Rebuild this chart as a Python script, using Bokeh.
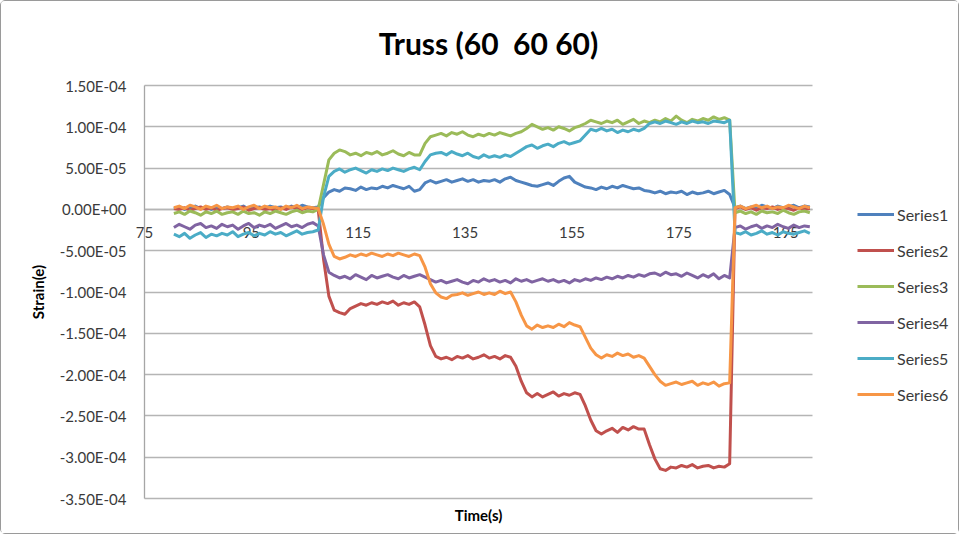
import numpy as np
from bokeh.plotting import figure
from bokeh.models import FixedTicker, Legend, LegendItem, Label
from bokeh.embed import file_html
from bokeh.resources import INLINE

# sample times (s), one reading per second
time_s = np.arange(80.5, 200.0, 1.0)

# strain readings in micro-strain (1e-6)
series1 = [1, 3, 0, 2, 4, 1, 3, 0, 2, 1,
           3, 1, 2, 4, 0, 2, 3, 1, 4, 2,
           3, 1, 4, 2, 5, 3, 2, 3, 14, 21,
           24, 22, 26, 25, 23, 27, 24, 26, 25, 28,
           26, 29, 27, 25, 28, 22, 24, 32, 35, 32,
           34, 36, 33, 35, 37, 34, 36, 33, 35, 34,
           36, 33, 37, 39, 35, 33, 31, 29, 28, 30,
           32, 29, 34, 38, 40, 33, 30, 27, 26, 24,
           27, 25, 28, 26, 29, 27, 25, 26, 23, 22,
           20, 22, 19, 21, 20, 22, 18, 21, 19, 20,
           22, 19, 21, 23, 18, 2, 4, 1, 3, 2,
           5, 3, 1, 4, 2, 3, 5, 2, 4, 3]
series2 = [1, 0, 2, -1, 1, 3, 0, 2, -1, 1,
           2, 0, 1, 3, -1, 1, 2, 0, 1, -1,
           2, 0, 3, 1, 0, 2, 1, 0, -60, -105,
           -122, -125, -127, -120, -117, -114, -116, -113, -115, -112,
           -114, -111, -116, -113, -115, -112, -118, -140, -165, -178,
           -181, -179, -182, -178, -180, -177, -181, -179, -176, -180,
           -178, -181, -177, -179, -190, -208, -222, -227, -223, -227,
           -224, -221, -226, -223, -225, -222, -224, -238, -255, -268,
           -272, -268, -265, -270, -264, -267, -263, -266, -266, -285,
           -302, -314, -316, -312, -313, -310, -312, -309, -313, -311,
           -310, -313, -311, -312, -308, 1, 3, 0, 2, -1,
           2, 1, 3, 0, 2, 1, -1, 2, 0, 1]
series3 = [-5, -3, -6, -2, -4, -7, -3, -5, -2, -6,
           -4, -3, -6, -2, -5, -4, -7, -3, -5, -2,
           -4, -6, -3, -1, -4, -2, -3, 0, 30, 60,
           68, 72, 70, 66, 68, 65, 69, 67, 70, 66,
           68, 71, 67, 65, 69, 66, 66, 80, 88, 90,
           92, 89, 93, 91, 94, 90, 88, 91, 89, 92,
           90, 93, 91, 89, 92, 94, 98, 103, 100, 97,
           99, 96, 100, 98, 95, 99, 101, 104, 108, 106,
           104, 107, 105, 108, 103, 106, 109, 104, 107, 105,
           108, 106, 110, 107, 113, 108, 105, 109, 107, 110,
           108, 112, 109, 111, 108, -4, -2, -5, -3, -6,
           -2, -4, -3, -5, -1, -4, -6, -3, -2, -4]
series4 = [-22, -18, -21, -24, -19, -17, -22, -20, -23, -18,
           -21, -19, -24, -20, -17, -22, -19, -21, -18, -23,
           -20, -17, -21, -19, -22, -18, -16, -20, -55, -76,
           -80, -83, -81, -84, -79, -82, -85, -80, -83, -81,
           -79, -82, -84, -80, -83, -81, -79, -82, -85, -88,
           -86, -89, -87, -85, -88, -90, -86, -88, -84, -87,
           -85, -88, -86, -89, -84, -87, -85, -88, -86, -84,
           -87, -85, -88, -86, -89, -85, -87, -84, -86, -83,
           -85, -82, -84, -81, -83, -80, -82, -79, -81, -78,
           -77, -80, -76, -79, -78, -81, -77, -80, -83, -79,
           -82, -78, -84, -80, -83, -22, -20, -24, -21, -19,
           -23, -20, -22, -18, -21, -23, -19, -22, -20, -21]
series5 = [-30, -33, -29, -35, -31, -28, -34, -30, -32, -29,
           -31, -27, -33, -30, -28, -32, -29, -31, -27, -30,
           -28, -32, -29, -26, -30, -28, -27, -25, 15, 40,
           46, 49, 45, 48, 50, 47, 44, 48, 46, 49,
           47, 50, 48, 46, 49, 51, 48, 58, 66, 68,
           69, 66, 70, 67, 65, 68, 64, 62, 66, 63,
           65, 63, 66, 64, 68, 72, 76, 78, 74, 77,
           79, 76, 80, 82, 79, 81, 83, 90, 97, 95,
           98, 95, 97, 93, 96, 94, 97, 95, 98, 104,
           106, 104, 107, 105, 103, 106, 104, 107, 105, 106,
           104, 107, 106, 105, 108, -28, -30, -27, -31, -29,
           -26, -30, -28, -31, -27, -29, -30, -28, -26, -29]
series6 = [2, 4, 1, 5, 3, 0, 4, 2, 5, 1,
           3, 2, 4, 0, 3, 5, 1, 4, 2, 3,
           0, 4, 2, 5, 1, 3, 2, 1, -18, -42,
           -57, -60, -58, -55, -57, -54, -56, -53, -55, -57,
           -54, -56, -53, -55, -57, -54, -56, -70, -90, -101,
           -106, -108, -104, -103, -101, -104, -102, -100, -103, -101,
           -103, -99, -102, -100, -112, -128, -141, -145, -140, -143,
           -141, -143, -139, -142, -137, -140, -142, -155, -168, -176,
           -180, -176, -178, -174, -177, -175, -179, -177, -180, -190,
           -200, -208, -213, -211, -209, -212, -210, -208, -213, -210,
           -212, -209, -214, -211, -210, 2, 4, 1, 3, 5,
           2, 4, 1, 3, 2, 5, 3, 1, 4, 2]

series_names = ["Series1", "Series2", "Series3", "Series4", "Series5", "Series6"]
series_colors = ["#4F81BD", "#C0504D", "#9BBB59", "#8064A2", "#4BACC6", "#F79646"]

x_bounds = (75, 200)
y_bounds = (-350, 150)
x_ticks = [75, 95, 115, 135, 155, 175, 195]
y_ticks = [150, 100, 50, 0, -50, -100, -150, -200, -250, -300, -350]
y_tick_labels = ["1.50E-04", "1.00E-04", "5.00E-05", "0.00E+00", "-5.00E-05", "-1.00E-04",
                 "-1.50E-04", "-2.00E-04", "-2.50E-04", "-3.00E-04", "-3.50E-04"]

FONT = "Lato"
TEXT = "#3a3a3a"
GRID = "#b5b5b5"

# canvas size and where the plot area should sit on it (pixels)
W, H = 959, 534
PX_LEFT, PX_RIGHT, PX_TOP, PX_BOTTOM = 143, 811, 84, 497

# the frame covers the whole canvas so that the legend and the "75" label
# (which sit outside the plotted box) are not clipped
kx = (x_bounds[1] - x_bounds[0]) / (PX_RIGHT - PX_LEFT)
ky = (y_bounds[1] - y_bounds[0]) / (PX_BOTTOM - PX_TOP)
x_range = (x_bounds[0] - PX_LEFT * kx, x_bounds[1] + (W - PX_RIGHT) * kx)
y_range = (y_bounds[0] - (H - PX_BOTTOM) * ky, y_bounds[1] + PX_TOP * ky)

p = figure(width=W, height=H, x_range=x_range, y_range=y_range,
           output_backend="svg", toolbar_location=None, tools="", min_border=0)
p.styles = {"border": "1px solid #9a9a9a", "border-radius": "5px"}
p.outline_line_color = None

p.xgrid.visible = False
p.ygrid.grid_line_color = GRID
p.ygrid.grid_line_width = 1.3
p.ygrid.cross_bounds = x_bounds

p.xaxis.ticker = FixedTicker(ticks=x_ticks)
p.xaxis.fixed_location = 0
p.xaxis.bounds = x_bounds
p.xaxis.level = "underlay"
p.xaxis.axis_line_color = GRID
p.xaxis.axis_line_width = 1.3
p.xaxis.major_tick_out = 0
p.xaxis.major_tick_in = 0
p.xaxis.minor_tick_out = 0
p.xaxis.minor_tick_in = 0
p.xaxis.major_label_standoff = 18
p.xaxis.major_label_text_font = FONT
p.xaxis.major_label_text_font_size = "15px"
p.xaxis.major_label_text_color = TEXT

p.yaxis.ticker = FixedTicker(ticks=y_ticks)
p.yaxis.major_label_overrides = dict(zip(y_ticks, y_tick_labels))
p.yaxis.fixed_location = x_bounds[0]
p.yaxis.bounds = y_bounds
p.yaxis.axis_line_color = "#a6a6a6"
p.yaxis.axis_line_width = 1.3
p.yaxis.major_tick_out = 0
p.yaxis.major_tick_in = 0
p.yaxis.minor_tick_out = 0
p.yaxis.minor_tick_in = 0
p.yaxis.major_label_standoff = 18
p.yaxis.major_label_text_font = FONT
p.yaxis.major_label_text_font_size = "15px"
p.yaxis.major_label_text_color = TEXT
p.yaxis.axis_label = "Strain(e)"
p.yaxis.axis_label_standoff = 10
p.yaxis.axis_label_text_font = FONT
p.yaxis.axis_label_text_font_size = "15px"
p.yaxis.axis_label_text_font_style = "bold"
p.yaxis.axis_label_text_color = "#000000"

# double space kept with a no-break space (svg collapses plain runs)
p.add_layout(Label(x=487, y=H - 41, x_units="screen", y_units="screen",
                   text="Truss (60\u00a0 60 60)", text_align="center",
                   text_baseline="alphabetic", text_font=FONT, text_font_size="30px",
                   text_font_style="bold", text_color="#000000"))
p.add_layout(Label(x=477, y=H - 513, x_units="screen", y_units="screen",
                   text="Time(s)", text_align="center", text_baseline="middle",
                   text_font=FONT, text_font_size="15px", text_font_style="bold",
                   text_color="#000000"))

items = []
for name, ys, color in zip(series_names, [series1, series2, series3, series4, series5, series6],
                           series_colors):
    r = p.line(time_s, ys, line_color=color, line_width=3, line_join="round")
    items.append(LegendItem(label=name, renderers=[r]))

legend = Legend(items=items, location=(856, 131), padding=0, margin=0, spacing=16,
                glyph_width=37, glyph_height=20, label_height=20, label_standoff=3,
                background_fill_alpha=0, border_line_color=None,
                label_text_font=FONT, label_text_font_size="16px", label_text_color=TEXT)
p.add_layout(legend)

open("out.html", "w").write(file_html(p, INLINE))
